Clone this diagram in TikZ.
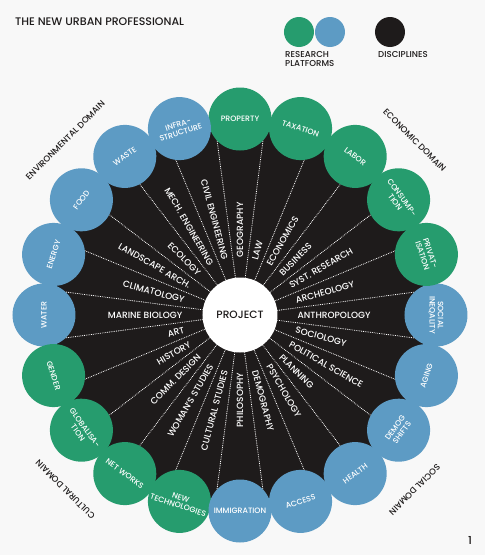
\documentclass[tikz,border=0pt]{standalone}
\usepackage{fontspec}
\setmainfont{Poppins Medium}

\definecolor{platgreen}{RGB}{38,156,110}
\definecolor{platblue}{RGB}{93,155,196}
\definecolor{discblack}{RGB}{30,27,27}
\definecolor{paper}{RGB}{248,248,248}

\tikzset{
    platform/.style={circle, minimum size=63pt, inner sep=0pt, text=white, align=center,
        font=\fontsize{7.8}{8.4}\selectfont},
    discipline/.style={text=white, inner sep=0.5pt, font=\fontsize{9}{10}\selectfont},
    spoke/.style={white, densely dotted, line width=0.8pt},
    domainlabel/.style={text=discblack, font=\fontsize{8.6}{9}\selectfont},
    legdot/.style={circle, minimum size=30pt, inner sep=0pt},
}

\begin{document}
\begin{tikzpicture}[x=1pt,y=1pt]
    \useasboundingbox (-240,-243) rectangle (256,315);
    \fill[paper] (-240,-240) rectangle (245,315);

    % Title and legend
    \node[anchor=west, inner sep=0pt, text=discblack, font=\fontsize{11}{12}\selectfont] (title) at (-225,293) {THE NEW URBAN PROFESSIONAL};
    \node[legdot, fill=platgreen] (leggreen) at (59,283) {};
    \node[legdot, fill=platblue] (legblue) at (90,283) {};
    \node[legdot, fill=discblack] (legblack) at (150,283) {};
    \node[anchor=north west, align=left, inner sep=0pt, text=discblack, font=\fontsize{8.6}{9.6}\selectfont] (legplat) at (45,264) {RESEARCH\\PLATFORMS};
    \node[anchor=north west, inner sep=0pt, text=discblack, font=\fontsize{8.6}{9.6}\selectfont] (legdisc) at (138,264) {DISCIPLINES};

    % Disciplines disc
    \node[circle, fill=discblack, minimum size=376pt, inner sep=0pt] (disc) at (0,0) {};
    \node[circle, fill=white, minimum size=75pt, inner sep=0pt, text=discblack,
        font=\fontsize{10.6}{12}\selectfont] (project) at (0,0) {PROJECT};

    % Spokes between the disciplines
    \foreach \k in {0,...,23} {
        \pgfmathsetmacro\ang{7.5+15*\k}
        \coordinate (rim\k) at (\ang:190);
        \draw[spoke] (project.\ang) -- (rim\k);
    }

    % Disciplines, 15 degrees apart
    \foreach \name [count=\k from 0] in {ANTHROPOLOGY, ARCHEOLOGY, SYST. RESEARCH, BUSINESS,
        ECONOMICS, LAW, GEOGRAPHY, CIVIL ENGINEERING, MECH. ENGINEERING, ECOLOGY,
        LANDSCAPE ARCH., CLIMATOLOGY, MARINE BIOLOGY, ART, HISTORY, COMM. DESIGN,
        WOMAN'S STUDIES, CULTURAL STUDIES, PHILOSOPHY, DEMOGRAPHY, PSYCHOLOGY,
        PLANNING, POLITICAL SCIENCE, SOCIOLOGY} {
        \pgfmathsetmacro\ang{15*\k}
        \pgfmathtruncatemacro\flip{(\ang>90)&&(\ang<=270)}
        \ifnum\flip=1
            \node[discipline, rotate=\ang-180, anchor=east] (disc\k) at (\ang:57) {\name};
        \else
            \node[discipline, rotate=\ang, anchor=west] (disc\k) at (\ang:57) {\name};
        \fi
    }

    % Research platforms, 18 degrees apart
    \foreach \txt/\col [count=\i from 0] in {{SOCIAL\\INEQALITY}/platblue, {PRIVAT-\\ISATION}/platgreen,
        {CONSUMP-\\TION}/platgreen, LABOR/platgreen, TAXATION/platgreen, PROPERTY/platgreen,
        {INFRA-\\STRUCTURE}/platblue, WASTE/platblue, FOOD/platblue, ENERGY/platblue,
        WATER/platblue, GENDER/platgreen, {GLOBALISA-\\TION}/platgreen, NET WORKS/platgreen,
        {NEW\\TECHNOLOGIES}/platgreen, IMMIGRATION/platblue, ACCESS/platblue,
        HEALTH/platblue, {DEMOG\\SHIFTS}/platblue, AGING/platblue} {
        \pgfmathsetmacro\ang{18*\i}
        \pgfmathsetmacro\rot{\ang<=180 ? \ang-90 : \ang+90}
        \node[platform, fill=\col, rotate=\rot] (plat\i) at (\ang:196) {\txt};
    }

    % Domains
    \node[domainlabel, rotate=45] (envdom) at (135:247) {ENVIRONMENTAL DOMAIN};
    \node[domainlabel, rotate=-45] (ecodom) at (45:247) {ECONOMIC DOMAIN};
    \node[domainlabel, rotate=135] (culdom) at (225:247) {CULTURAL DOMAIN};
    \node[domainlabel, rotate=-135] (socdom) at (315:247) {SOCIAL DOMAIN};

    % Page number
    \node[text=discblack, font=\fontsize{11}{12}\selectfont] (pagenum) at (230,-225) {1};
\end{tikzpicture}
\end{document}
